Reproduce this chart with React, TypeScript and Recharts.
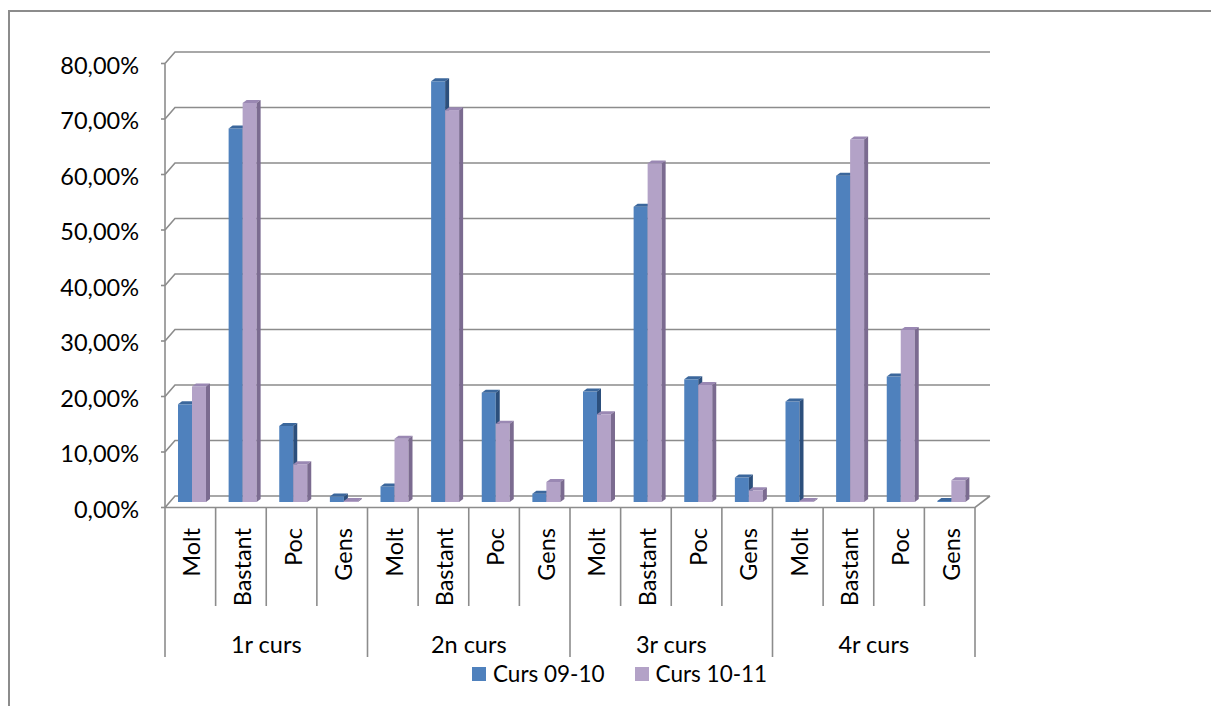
import { BarChart, Bar, XAxis, YAxis, CartesianGrid } from "recharts";

// category labels, two levels
const categories = ["Molt", "Bastant", "Poc", "Gens"];
const groups = ["1r curs", "2n curs", "3r curs", "4r curs"];

// values per group (Molt, Bastant, Poc, Gens)
const curs0910 = [0.176, 0.673, 0.137, 0.010, 0.028, 0.758, 0.197, 0.015, 0.199, 0.532, 0.221, 0.044, 0.181, 0.588, 0.226, 0.002];
const curs1011 = [0.208, 0.719, 0.068, 0.002, 0.114, 0.706, 0.141, 0.036, 0.158, 0.610, 0.211, 0.021, 0.002, 0.653, 0.310, 0.039];

const yTicks = [0, 0.1, 0.2, 0.3, 0.4, 0.5, 0.6, 0.7, 0.8];

const series = [
  { key: "curs0910", name: "Curs 09-10", front: "#4f81bd", top: "#3b679c", side: "#2c4f7c" },
  { key: "curs1011", name: "Curs 10-11", front: "#b3a2c7", top: "#9a88b3", side: "#7b6b90" },
];

const data = groups.flatMap((g, gi) =>
  categories.map((c, ci) => ({
    id: `${gi}-${ci}`,
    name: c,
    group: g,
    curs0910: curs0910[gi * 4 + ci],
    curs1011: curs1011[gi * 4 + ci],
  }))
);

const W = 1209;
const H = 694;
const PLOT_LEFT = 155;
const PLOT_RIGHT = 965;
const PLOT_BOTTOM = 490;
const BW = (PLOT_RIGHT - PLOT_LEFT) / data.length;
const FRONT_DY = 5.5;
const BACK_DY = -6;
const BACK_DX = 10;
const GRID = "#8c8c8c";
const FONT = "Lato, 'Open Sans', sans-serif";
const FS = 23.5;

const fmt = (v: number) => (v * 100).toFixed(2).replace(".", ",") + "%";

// gridline with 3D wall offset
const gridLine = (p: any) => {
  const y = p.y1;
  const isFloor = Math.abs(y - PLOT_BOTTOM) < 1;
  let d = `M${PLOT_LEFT},${y + FRONT_DY} L${PLOT_LEFT + BACK_DX},${y + BACK_DY} L${PLOT_RIGHT + 15},${y + BACK_DY}`;
  if (isFloor) {
    d += ` M${PLOT_LEFT},${y + FRONT_DY} L${PLOT_RIGHT},${y + FRONT_DY} L${PLOT_RIGHT + 15},${y + BACK_DY}`;
  }
  return <path key={p.key} d={d} stroke={GRID} strokeWidth={1.6} fill="none" />;
};

const YTick = (p: any) => {
  const { y, payload } = p;
  const fy = y + FRONT_DY;
  return (
    <g>
      {payload.value === 0.8 && (
        <line x1={PLOT_LEFT} x2={PLOT_LEFT} y1={fy} y2={PLOT_BOTTOM + FRONT_DY} stroke={GRID} strokeWidth={1.6} />
      )}
      <line x1={PLOT_LEFT - 4} x2={PLOT_LEFT} y1={fy} y2={fy} stroke={GRID} strokeWidth={1.6} />
      <text x={129} y={fy + 1} textAnchor="end" dominantBaseline="central" fontSize={FS} fontFamily={FONT} fill="#000">
        {fmt(payload.value)}
      </text>
    </g>
  );
};

const XTick = (p: any) => {
  const { x, index } = p;
  const row = data[index];
  if (!row) return null;
  const left = x - BW / 2;
  const top = PLOT_BOTTOM + FRONT_DY;
  const isGroupStart = index % 4 === 0;
  const isLast = index === data.length - 1;
  return (
    <g>
      <line x1={left} x2={left} y1={top} y2={isGroupStart ? 645 : 594} stroke={GRID} strokeWidth={1.6} />
      {isLast && <line x1={x + BW / 2} x2={x + BW / 2} y1={top} y2={645} stroke={GRID} strokeWidth={1.6} />}
      <text
        x={x + 1}
        y={516}
        transform={`rotate(-90 ${x + 1} 516)`}
        textAnchor="end"
        dominantBaseline="central"
        fontSize={FS}
        fontFamily={FONT}
        fill="#000"
      >
        {row.name}
      </text>
      {isGroupStart && (
        <text x={left + 2 * BW} y={632} textAnchor="middle" dominantBaseline="central" fontSize={FS} fontFamily={FONT} fill="#000">
          {row.group}
        </text>
      )}
    </g>
  );
};

// front face, top bevel and side of a column
const makeShape = (s: (typeof series)[number]) => (p: any) => {
  const { x, y, width, height } = p;
  if (x == null || y == null) return <g />;
  const bx = x + 2;
  const dx = 4;
  const dy = 3;
  return (
    <g>
      <rect x={bx} y={y} width={width} height={Math.max(height, 0)} fill={s.front} />
      <path d={`M${bx},${y} L${bx + dx},${y - dy} L${bx + width + dx},${y - dy} L${bx + width},${y} Z`} fill={s.top} />
      <path
        d={`M${bx + width},${y} L${bx + width + dx},${y - dy} L${bx + width + dx},${y + height - dy} L${bx + width},${y + height} Z`}
        fill={s.side}
      />
    </g>
  );
};

export default function App() {
  return (
    <div
      style={{
        position: "relative",
        marginTop: 2,
        width: W,
        height: H,
        borderLeft: "2px solid #8c8c8c",
        borderTop: "2px solid #8c8c8c",
        fontFamily: FONT,
      }}
    >
      <BarChart
        width={W}
        height={H}
        data={data}
        margin={{ top: 46, right: W - PLOT_RIGHT, bottom: 54, left: 0 }}
        barSize={14}
        barGap={0}
      >
        <CartesianGrid vertical={false} horizontal={gridLine} />
        <XAxis dataKey="id" axisLine={false} tickLine={false} interval={0} height={150} tick={<XTick />} />
        <YAxis
          width={PLOT_LEFT}
          domain={[0, 0.8]}
          ticks={yTicks}
          axisLine={false}
          tickLine={false}
          tick={<YTick />}
        />
        {series.map((s) => (
          <Bar key={s.key} dataKey={s.key} name={s.name} fill={s.front} isAnimationActive={false} shape={makeShape(s)} />
        ))}
      </BarChart>
      <div
        style={{
          position: "absolute",
          top: 648,
          left: 462,
          display: "flex",
          alignItems: "center",
          fontSize: 22.5,
          lineHeight: "28px",
          color: "#000",
        }}
      >
        {series.map((s) => (
          <div key={s.key} style={{ display: "flex", alignItems: "center", marginRight: 30 }}>
            <span style={{ display: "inline-block", width: 14, height: 14, background: s.front, marginRight: 7 }} />
            <span>{s.name}</span>
          </div>
        ))}
      </div>
    </div>
  );
}
